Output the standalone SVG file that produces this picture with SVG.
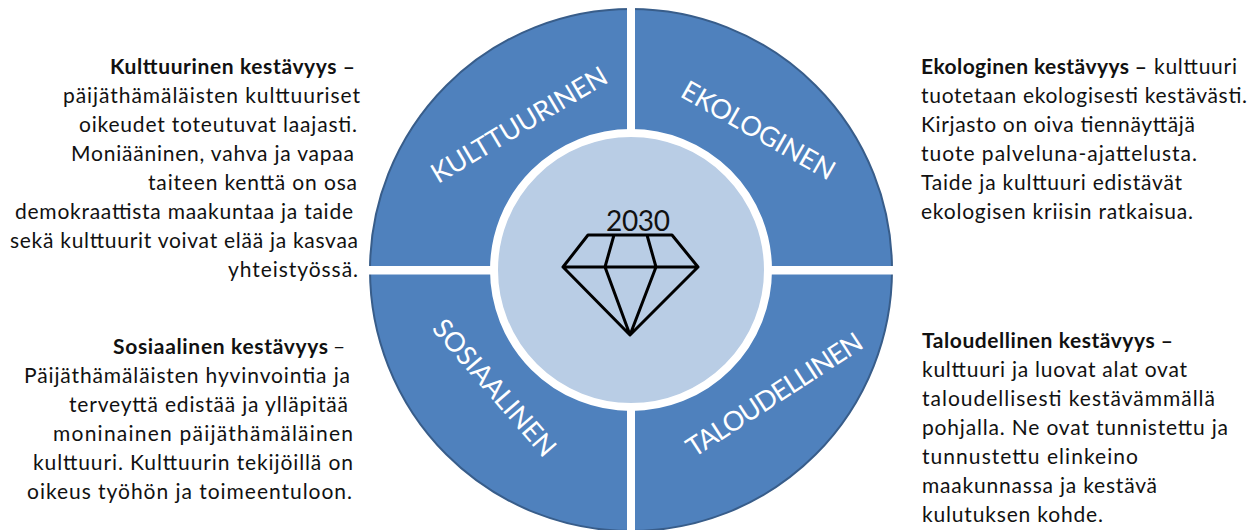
<svg xmlns="http://www.w3.org/2000/svg" width="1259" height="530" viewBox="0 0 1259 530">
<style>
text{font-family:Lato,"Open Sans","Liberation Sans",sans-serif}
.t{font-size:21px;fill:#111}
.b{font-weight:700}
.r{font-size:27px;fill:#fff}
.d{fill:none;stroke:#000;stroke-width:3;stroke-linejoin:round;stroke-linecap:round}
</style>
<rect width="1259" height="530" fill="#fff"/>
<g id="wheel">
<circle cx="631" cy="270" r="261" fill="#4f81bd" stroke="#385d8a" stroke-width="2"/>
<rect x="627" y="0" width="8" height="530" fill="#fff"/>
<rect x="360" y="266" width="540" height="8.500" fill="#fff"/>
<circle cx="631" cy="270" r="137" fill="#b9cde5" stroke="#fff" stroke-width="8"/>
</g>
<g id="seg-kulttuurinen"><text class="r" transform="translate(438 184) rotate(-30.800)" textLength="200">KULTTUURINEN</text></g>
<g id="seg-ekologinen"><text class="r" transform="translate(679 96) rotate(29.600)" textLength="172">EKOLOGINEN</text></g>
<g id="seg-sosiaalinen"><text class="r" transform="translate(431 329) rotate(49)" textLength="172">SOSIAALINEN</text></g>
<g id="seg-taloudellinen"><text class="r" transform="translate(694 458) rotate(-33)" textLength="204">TALOUDELLINEN</text></g>
<g id="center">
<path class="d" d="M588 235H672L698 267L630 335L563 267ZM563 267H698M614 235L605 267L630 335L656 267L647 235"/>
<text x="606" y="231" font-size="28" fill="#111" textLength="64">2030</text>
</g>
<g id="text-kulttuurinen" class="t">
<text class="b" x="110" y="74" textLength="245">Kulttuurinen kestävyys –</text>
<text x="63" y="103" textLength="297">päijäthämäläisten kulttuuriset</text>
<text x="79" y="132" textLength="278">oikeudet toteutuvat laajasti.</text>
<text x="71" y="161" textLength="283">Moniääninen, vahva ja vapaa</text>
<text x="148" y="190" textLength="209">taiteen kenttä on osa</text>
<text x="15" y="219" textLength="338">demokraattista maakuntaa ja taide</text>
<text x="10" y="248" textLength="348">sekä kulttuurit voivat elää ja kasvaa</text>
<text x="228" y="277" textLength="130">yhteistyössä.</text>
</g>
<g id="text-ekologinen" class="t">
<text class="b" x="921" y="74" textLength="226">Ekologinen kestävyys –</text>
<text x="1154" y="74" textLength="83">kulttuuri</text>
<text x="921" y="103" textLength="326">tuotetaan ekologisesti kestävästi.</text>
<text x="921" y="132" textLength="274">Kirjasto on oiva tiennäyttäjä</text>
<text x="921" y="161" textLength="276">tuote palveluna-ajattelusta.</text>
<text x="921" y="190" textLength="261">Taide ja kulttuuri edistävät</text>
<text x="921" y="219" textLength="272">ekologisen kriisin ratkaisua.</text>
</g>
<g id="text-sosiaalinen" class="t">
<text class="b" x="113" y="354" textLength="215">Sosiaalinen kestävyys</text>
<text x="333" y="354" textLength="11">–</text>
<text x="24" y="383" textLength="326">Päijäthämäläisten hyvinvointia ja</text>
<text x="69" y="412" textLength="279">terveyttä edistää ja ylläpitää</text>
<text x="53" y="441" textLength="300">moninainen päijäthämäläinen</text>
<text x="33" y="470" textLength="320">kulttuuri. Kulttuurin tekijöillä on</text>
<text x="27" y="499" textLength="325">oikeus työhön ja toimeentuloon.</text>
</g>
<g id="text-taloudellinen" class="t">
<text class="b" x="922" y="348" textLength="251">Taloudellinen kestävyys –</text>
<text x="922" y="377" textLength="265">kulttuuri ja luovat alat ovat</text>
<text x="922" y="406" textLength="293">taloudellisesti kestävämmällä</text>
<text x="922" y="435" textLength="306">pohjalla. Ne ovat tunnistettu ja</text>
<text x="922" y="464" textLength="216">tunnustettu elinkeino</text>
<text x="922" y="493" textLength="235">maakunnassa ja kestävä</text>
<text x="922" y="522" textLength="181">kulutuksen kohde.</text>
</g>
</svg>
